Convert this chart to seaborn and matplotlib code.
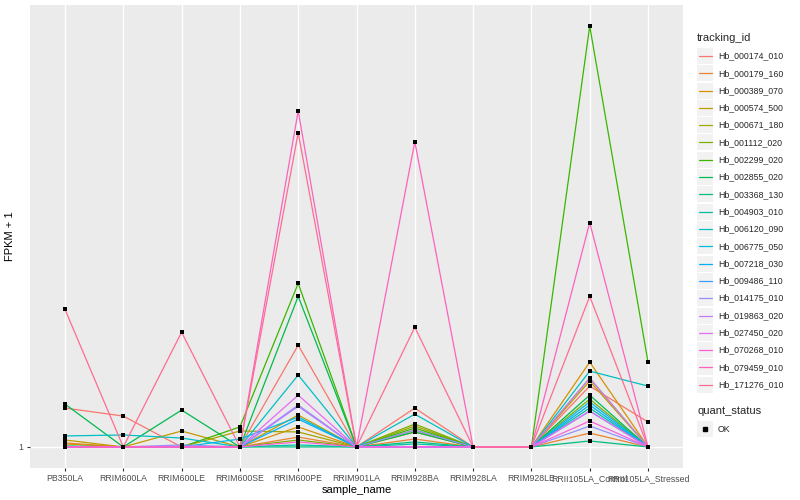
import matplotlib
matplotlib.use("Agg")
import matplotlib.pyplot as plt
import numpy as np
import pandas as pd
import seaborn as sns
from matplotlib.lines import Line2D
from matplotlib.patches import Rectangle
from matplotlib.ticker import NullLocator

# Data
samples = ["PB350LA", "RRIM600LA", "RRIM600LE", "RRIM600SE", "RRIM600PE",
           "RRIM901LA", "RRIM928BA", "RRIM928LA", "RRIM928LE",
           "RRII105LA_Control", "RRII105LA_Stressed"]

tracking_ids = ["Hb_000174_010", "Hb_000179_160", "Hb_000389_070", "Hb_000574_500",
                "Hb_000671_180", "Hb_001112_020", "Hb_002299_020", "Hb_002855_020",
                "Hb_003368_130", "Hb_004903_010", "Hb_006120_090", "Hb_006775_050",
                "Hb_007218_030", "Hb_009486_110", "Hb_014175_010", "Hb_019863_020",
                "Hb_027450_020", "Hb_070268_010", "Hb_079459_010", "Hb_171276_010"]

# ggplot hue palette, 20 levels
hue_colors = ["#F8766D", "#EA8331", "#D89000", "#C09B00", "#A3A500", "#7CAE00",
              "#39B600", "#00BB4E", "#00BF7D", "#00C1A3", "#00BFC4", "#00BAE0",
              "#00B0F6", "#35A2FF", "#9590FF", "#C77CFF", "#E76BF3", "#FA62DB",
              "#FF62BC", "#FF6C91"]

# FPKM + 1 per sample
hb_000174_010 = [1.212, 1.165, 1.0, 1.0, 1.654, 1.0, 1.212, 1.0, 1.0, 1.351, 1.131]
hb_000179_160 = [1.020, 1.0, 1.0, 1.0, 1.050, 1.0, 1.040, 1.0, 1.0, 1.071, 1.0]
hb_000389_070 = [1.015, 1.0, 1.0, 1.0, 1.104, 1.0, 1.077, 1.0, 1.0, 1.521, 1.0]
hb_000574_500 = [1.035, 1.0, 1.082, 1.0, 1.171, 1.0, 1.087, 1.0, 1.0, 1.385, 1.0]
hb_000671_180 = [1.0, 1.0, 1.0, 1.082, 1.077, 1.0, 1.109, 1.0, 1.0, 1.405, 1.0]
hb_001112_020 = [1.0, 1.0, 1.0, 1.0, 1.035, 1.0, 1.120, 1.0, 1.0, 1.267, 1.0]
hb_002299_020 = [1.0, 1.0, 1.0, 1.104, 2.245, 1.0, 1.098, 1.0, 1.0, 8.01, 1.521]
hb_002855_020 = [1.236, 1.0, 1.200, 1.0, 2.105, 1.0, 1.077, 1.0, 1.0, 1.292, 1.0]
hb_003368_130 = [1.005, 1.0, 1.0, 1.0, 1.0, 1.0, 1.025, 1.0, 1.0, 1.030, 1.0]
hb_004903_010 = [1.0, 1.0, 1.0, 1.0, 1.010, 1.0, 1.015, 1.0, 1.0, 1.212, 1.0]
hb_006120_090 = [1.056, 1.061, 1.045, 1.0, 1.427, 1.0, 1.176, 1.0, 1.0, 1.455, 1.351]
hb_006775_050 = [1.0, 1.0, 1.0, 1.040, 1.159, 1.0, 1.0, 1.0, 1.0, 1.249, 1.0]
hb_007218_030 = [1.0, 1.0, 1.0, 1.0, 1.148, 1.0, 1.0, 1.0, 1.0, 1.230, 1.0]
hb_009486_110 = [1.0, 1.0, 1.0, 1.0, 1.224, 1.0, 1.0, 1.0, 1.0, 1.194, 1.0]
hb_014175_010 = [1.0, 1.0, 1.010, 1.0, 1.230, 1.0, 1.087, 1.0, 1.0, 1.109, 1.0]
hb_019863_020 = [1.0, 1.0, 1.0, 1.0, 1.224, 1.0, 1.0, 1.0, 1.0, 1.405, 1.0]
hb_027450_020 = [1.0, 1.0, 1.0, 1.0, 1.292, 1.0, 1.0, 1.0, 1.0, 1.194, 1.0]
hb_070268_010 = [1.0, 1.0, 1.0, 1.0, 1.025, 1.0, 1.0, 1.0, 1.0, 1.137, 1.0]
hb_079459_010 = [1.0, 1.0, 1.0, 1.0, 5.267, 1.0, 4.521, 1.0, 1.0, 3.032, 1.0]
hb_171276_010 = [1.974, 1.0, 1.763, 1.0, 4.727, 1.0, 1.807, 1.0, 1.0, 2.105, 1.0]

values = [hb_000174_010, hb_000179_160, hb_000389_070, hb_000574_500, hb_000671_180,
          hb_001112_020, hb_002299_020, hb_002855_020, hb_003368_130, hb_004903_010,
          hb_006120_090, hb_006775_050, hb_007218_030, hb_009486_110, hb_014175_010,
          hb_019863_020, hb_027450_020, hb_070268_010, hb_079459_010, hb_171276_010]

rows = []
for tid, vals in zip(tracking_ids, values):
    for s, v in zip(samples, vals):
        rows.append({"tracking_id": tid, "sample_name": s, "fpkm": v, "quant_status": "OK"})
df = pd.DataFrame(rows)

sns.set_theme(style="darkgrid", rc={
    "axes.facecolor": "#EBEBEB",
    "grid.color": "white",
    "grid.linewidth": 1.0,
})
plt.rcParams["font.family"] = ["Liberation Sans", "DejaVu Sans"]

fig = plt.figure(figsize=(8, 5), dpi=100)
ax = fig.add_axes([30 / 800, 32 / 500, 653 / 800, 463 / 500])

sns.lineplot(data=df, x="sample_name", y="fpkm", hue="tracking_id",
             palette=hue_colors, hue_order=tracking_ids, estimator=None,
             sort=False, legend=False, linewidth=0.9, ax=ax)
sns.scatterplot(data=df, x="sample_name", y="fpkm", color="black", marker="s",
                s=9, linewidth=0, legend=False, ax=ax, zorder=3)

ax.set_yscale("log")
lo, hi = 0.0, np.log10(max(max(v) for v in values))
pad = (hi - lo) * 0.05
ax.set_ylim(10 ** (lo - pad), 10 ** (hi + pad))
ax.set_yticks([1])
ax.set_yticklabels(["1"])
ax.yaxis.set_minor_locator(NullLocator())
ax.set_xlim(-0.6, len(samples) - 0.4)

for sp in ax.spines.values():
    sp.set_visible(False)
ax.tick_params(axis="both", which="major", length=2.5, width=0.8, color="#333333",
               labelsize=6.3, labelcolor="#4D4D4D", pad=2)
ax.tick_params(left=True, bottom=True)
ax.set_xlabel("sample_name", fontsize=8, color="black", labelpad=1)
ax.set_ylabel("FPKM + 1", fontsize=8, color="black", labelpad=3)

# Legend, ggplot style
def fy(p):
    return 1 - p / 500

def fx(p):
    return p / 800

fig.text(fx(697), fy(38), "tracking_id", fontsize=8, va="center", ha="left")
for i, (tid, c) in enumerate(zip(tracking_ids, hue_colors)):
    yc = 56 + i * 17.3
    fig.patches.append(Rectangle((fx(697), fy(yc + 8)), 16 / 800, 16 / 500,
                                 transform=fig.transFigure, facecolor="#F2F2F2",
                                 edgecolor="none"))
    fig.lines.append(Line2D([fx(699), fx(712)], [fy(yc), fy(yc)], color=c,
                            linewidth=0.9, transform=fig.transFigure))
    fig.text(fx(718), fy(yc), tid, fontsize=6.3, va="center", ha="left")

fig.text(fx(697), fy(411), "quant_status", fontsize=8, va="center", ha="left")
fig.patches.append(Rectangle((fx(697), fy(429 + 8)), 16 / 800, 16 / 500,
                             transform=fig.transFigure, facecolor="#F2F2F2",
                             edgecolor="none"))
fig.lines.append(Line2D([fx(705)], [fy(429)], marker="s", markersize=2.8,
                        color="black", linestyle="none", transform=fig.transFigure))
fig.text(fx(718), fy(429), "OK", fontsize=6.3, va="center", ha="left")

fig.savefig("out.png", dpi=100)
